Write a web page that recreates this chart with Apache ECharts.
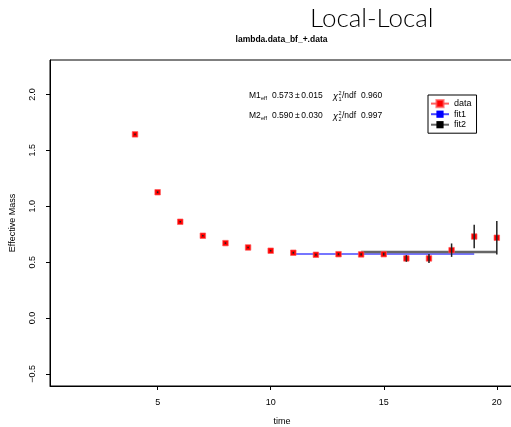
<!DOCTYPE html>
<html>
<head>
<meta charset="utf-8">
<script src="https://cdn.jsdelivr.net/npm/echarts@6/dist/echarts.min.js"></script>
<style>
  html, body { margin: 0; padding: 0; background: #fff; }
  #chart { width: 511px; height: 427px; }
</style>
</head>
<body>
<div id="chart"></div>
<script>
let times = [4, 5, 6, 7, 8, 9, 10, 11, 12, 13, 14, 15, 16, 17, 18, 19, 20];
let mass = [1.643, 1.125, 0.861, 0.736, 0.670, 0.631, 0.602, 0.584, 0.566, 0.571, 0.569, 0.571, 0.533, 0.533, 0.607, 0.729, 0.718];
let errs = [0.008, 0.008, 0.007, 0.007, 0.007, 0.007, 0.007, 0.008, 0.008, 0.009, 0.01, 0.012, 0.03, 0.04, 0.06, 0.105, 0.15];

let fit1Range = [11, 19];
let fit1Value = 0.573;
let fit2Range = [14, 20];
let fit2Value = 0.590;

let xTicks = [5, 10, 15, 20];
let yTicks = [-0.5, 0, 0.5, 1, 1.5, 2];

let points = times.map((t, i) => [t, mass[i]]);
let bars = times.map((t, i) => [t, mass[i] - errs[i], mass[i] + errs[i]]);

let chart = echarts.init(document.getElementById("chart"));

let font = 'Liberation Sans, Arial, sans-serif';

let option = {
    animation: false,
    textStyle: { fontFamily: font },
    grid: {
        left: 50, top: 60, width: 464, height: 326,
        outerBoundsMode: 'none',
        show: true, borderColor: '#000', borderWidth: 1
    },
    xAxis: {
        type: 'value',
        min: 0.24, max: 20.76,
        name: 'time',
        nameLocation: 'middle',
        nameGap: 31,
        nameTextStyle: { fontSize: 9, color: '#000' },
        splitLine: { show: false },
        axisLine: { onZero: false, lineStyle: { color: '#000', width: 1 } },
        axisTick: { customValues: xTicks, length: 4, lineStyle: { color: '#000' } },
        axisLabel: { customValues: xTicks, fontSize: 9, color: '#000', margin: 12 }
    },
    yAxis: {
        type: 'value',
        min: -0.608, max: 2.308,
        name: 'Effective Mass',
        nameLocation: 'middle',
        nameGap: 33,
        nameTextStyle: { fontSize: 9, color: '#000' },
        splitLine: { show: false },
        axisLine: { onZero: false, lineStyle: { color: '#000', width: 1 } },
        axisTick: { customValues: yTicks, length: 4, lineStyle: { color: '#000' } },
        axisLabel: {
            customValues: yTicks, fontSize: 9, color: '#000', rotate: 90, margin: 13,
            formatter: v => v.toFixed(1).replace('-', '\u2212')
        }
    },
    legend: {
        orient: 'vertical',
        left: 428, top: 95,
        padding: [4, 5, 4, 2],
        itemGap: 1.5,
        itemWidth: 18, itemHeight: 9,
        borderColor: '#000', borderWidth: 1,
        textStyle: { fontSize: 9, color: '#000', padding: [0, 0, 0, 0] },
        data: [
            { name: 'data', lineStyle: { color: '#ff6060', width: 2, opacity: 1 }, itemStyle: { color: '#ff0000' } },
            { name: 'fit1', itemStyle: { color: '#0000ff' } },
            { name: 'fit2', itemStyle: { color: '#000' } }
        ]
    },
    graphic: [
        {
            type: 'text', left: 310, top: 6,
            style: { text: 'Local-Local', fontSize: 26, fontWeight: 300, fontFamily: 'Lato, sans-serif', fill: '#000' }
        },
        {
            type: 'text', x: 281.5, y: 40,
            style: { text: 'lambda.data_bf_+.data', fontSize: 8.5, fontWeight: 'bold', fill: '#000', align: 'center', verticalAlign: 'middle', fontFamily: font }
        },
        {
            type: 'group', x: 249, y: 96,
            children: [
                { type: 'text', x: 0, y: 0, style: { text: 'M1', fontSize: 8.5, fill: '#000', verticalAlign: 'middle', fontFamily: font } },
                { type: 'text', x: 12, y: 2.5, style: { text: 'eff', fontSize: 5.5, fill: '#000', verticalAlign: 'middle', fontFamily: font } },
                { type: 'text', x: 23, y: 0, style: { text: '0.573\u2009\u00b1\u20090.015', fontSize: 8.5, fill: '#000', verticalAlign: 'middle', fontFamily: font } },
                { type: 'text', x: 84, y: 0.5, style: { text: '\u03c7', fontSize: 9, fontStyle: 'italic', fill: '#000', verticalAlign: 'middle', fontFamily: font } },
                { type: 'text', x: 89.5, y: -2.5, style: { text: '2', fontSize: 5.5, fill: '#000', verticalAlign: 'middle', fontFamily: font } },
                { type: 'text', x: 89.5, y: 3, style: { text: '1', fontSize: 5.5, fill: '#000', verticalAlign: 'middle', fontFamily: font } },
                { type: 'text', x: 93, y: 0, style: { text: '/ndf  0.960', fontSize: 8.5, fill: '#000', verticalAlign: 'middle', fontFamily: font } }
            ]
        },
        {
            type: 'group', x: 249, y: 116,
            children: [
                { type: 'text', x: 0, y: 0, style: { text: 'M2', fontSize: 8.5, fill: '#000', verticalAlign: 'middle', fontFamily: font } },
                { type: 'text', x: 12, y: 2.5, style: { text: 'eff', fontSize: 5.5, fill: '#000', verticalAlign: 'middle', fontFamily: font } },
                { type: 'text', x: 23, y: 0, style: { text: '0.590\u2009\u00b1\u20090.030', fontSize: 8.5, fill: '#000', verticalAlign: 'middle', fontFamily: font } },
                { type: 'text', x: 84, y: 0.5, style: { text: '\u03c7', fontSize: 9, fontStyle: 'italic', fill: '#000', verticalAlign: 'middle', fontFamily: font } },
                { type: 'text', x: 89.5, y: -2.5, style: { text: '2', fontSize: 5.5, fill: '#000', verticalAlign: 'middle', fontFamily: font } },
                { type: 'text', x: 89.5, y: 3, style: { text: '2', fontSize: 5.5, fill: '#000', verticalAlign: 'middle', fontFamily: font } },
                { type: 'text', x: 93, y: 0, style: { text: '/ndf  0.997', fontSize: 8.5, fill: '#000', verticalAlign: 'middle', fontFamily: font } }
            ]
        }
    ],
    series: [
        {
            name: 'fit1',
            type: 'line',
            data: [[fit1Range[0], fit1Value], [fit1Range[1], fit1Value]],
            showSymbol: false,
            symbol: 'rect', symbolSize: 6,
            itemStyle: { color: '#0000ff' },
            lineStyle: { color: 'rgba(40,40,255,0.85)', width: 1.5 },
            z: 2
        },
        {
            name: 'fit2',
            type: 'line',
            data: [[fit2Range[0], fit2Value], [fit2Range[1], fit2Value]],
            showSymbol: false,
            symbol: 'rect', symbolSize: 6,
            itemStyle: { color: '#000' },
            lineStyle: { color: '#666', width: 2.5 },
            z: 3
        },
        {
            name: 'data',
            type: 'line',
            data: points,
            symbol: 'rect',
            symbolSize: 5.5,
            itemStyle: { color: '#ff0000', borderColor: 'rgba(255,90,90,0.7)', borderWidth: 1 },
            lineStyle: { width: 0, opacity: 0 },
            z: 4
        },
        {
            name: 'errors',
            type: 'custom',
            data: bars,
            renderItem: function (params, api) {
                let lo = api.coord([api.value(0), api.value(1)]);
                let hi = api.coord([api.value(0), api.value(2)]);
                return {
                    type: 'line',
                    shape: { x1: lo[0], y1: lo[1], x2: hi[0], y2: hi[1] },
                    style: { stroke: '#222', lineWidth: 1.5 }
                };
            },
            z: 5
        }
    ]
};

chart.setOption(option);
</script>
</body>
</html>
